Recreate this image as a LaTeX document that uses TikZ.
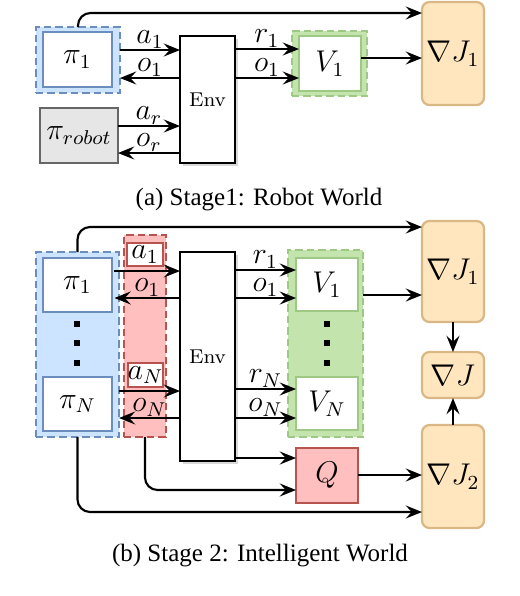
\documentclass[tikz,border=0pt]{standalone}
\usepackage{fontspec}
\newfontfamily\capfont{Liberation Serif}
\usetikzlibrary{arrows.meta,shadows,calc}
\definecolor{blueF}{HTML}{CCE4FF}
\definecolor{blueB}{HTML}{6C8EBF}
\definecolor{greenF}{HTML}{C4E4AE}
\definecolor{greenB}{HTML}{9DC985}
\definecolor{redF}{HTML}{FFBFBF}
\definecolor{redB}{HTML}{B85450}
\definecolor{oranF}{HTML}{FFE6BF}
\definecolor{oranB}{HTML}{D9B886}
\definecolor{grayF}{HTML}{E6E6E6}
\definecolor{grayB}{HTML}{666666}
\begin{document}
\begin{tikzpicture}[x=0.4pt,y=-0.4pt,
  every node/.style={inner sep=0pt, outer sep=0pt},
  sz/.style 2 args={minimum width={#1*0.4pt}, minimum height={#2*0.4pt}},
  ml/.style={font=\fontsize{11.5}{14}\selectfont},
  lbl/.style={ml, above=0.8pt, midway},
  arr/.style={-{Stealth[length=6.5pt,width=5.2pt,inset=2.4pt]}, line width=0.85pt},
  conn/.style={line width=0.85pt, rounded corners=5pt},
  bluegrp/.style={draw=blueB, fill=blueF, dashed, dash pattern=on 3pt off 1.6pt, line width=0.9pt},
  bluebox/.style={draw=blueB, fill=white, line width=1.1pt, ml},
  greengrp/.style={draw=greenB, fill=greenF, dashed, dash pattern=on 3pt off 1.6pt, line width=0.9pt},
  greenbox/.style={draw=greenB, fill=white, line width=1.1pt, ml},
  redgrp/.style={draw=redB, fill=redF, dashed, dash pattern=on 3pt off 1.6pt, line width=0.9pt},
  redlbl/.style={draw=redB, fill=white, line width=0.8pt, ml},
  qbox/.style={draw=redB, fill=redF, line width=0.9pt, ml},
  gradbox/.style={draw=oranB, fill=oranF, line width=0.9pt, rounded corners=3pt, ml},
  robotbox/.style={draw=grayB, fill=grayF, line width=0.8pt, ml},
  envbox/.style={draw=black, fill=white, line width=0.7pt, font=\fontsize{8}{10}\selectfont,
    drop shadow={shadow xshift=1.1pt, shadow yshift=-1.1pt, opacity=0.3}},
  sq/.style={fill=black, minimum size=2.5pt},
  captext/.style={font=\capfont\fontsize{10}{12}\selectfont}
]
\useasboundingbox (0,0) rectangle (520,596);

% ---------------- Stage 1 ----------------
\node[bluegrp, sz={84}{66}] (g1) at (78,60) {};
\node[bluebox, sz={69}{55}] (p1) at (77.5,59.5) {$\pi_1$};
\node[robotbox, sz={78}{55}] (rob) at (79,135.5) {$\pi_{robot}$};
\node[envbox, sz={55}{127}] (env1) at (207.5,99.5) {Env};
\node[greengrp, sz={75}{65}] (vg1) at (329.5,63.5) {};
\node[greenbox, sz={62}{55}] (v1) at (330,63.5) {$V_1$};
\node[gradbox, sz={62}{103}] (gj1) at (453,53.5) {$\nabla J_1$};

\draw[conn, arr] (g1.north) -- (g1.north |- 0,13) -- (gj1.west |- 0,13);
\draw[arr] (g1.east |- 0,50) -- node[lbl]{$a_1$} (env1.west |- 0,50);
\draw[arr] (env1.west |- 0,78) -- node[lbl]{$o_1$} (g1.east |- 0,78);
\draw[arr] (rob.east |- 0,126) -- node[lbl]{$a_r$} (env1.west |- 0,126);
\draw[arr] (env1.west |- 0,153) -- node[lbl]{$o_r$} (rob.east |- 0,153);
\draw[arr] (env1.east |- 0,49) -- node[lbl]{$r_1$} (v1.west |- 0,49);
\draw[arr] (env1.east |- 0,78) -- node[lbl]{$o_1$} (v1.west |- 0,78);
\draw[arr] (v1.east |- 0,58) -- (gj1.west |- 0,58);

\node[captext] (capa) at (259,200) {(a) Stage1: Robot World};

% ---------------- Stage 2 ----------------
\node[bluegrp, sz={83}{185}] (g2) at (77.5,344.5) {};
\node[bluebox, sz={69}{54}] (q1) at (77.5,285) {$\pi_1$};
\node[bluebox, sz={69}{54}] (qn) at (77.5,404) {$\pi_N$};
\node[sq] (bd1) at (77,324) {};
\node[sq] (bd2) at (77,343) {};
\node[sq] (bd3) at (77,363) {};

\node[redgrp, sz={42}{202}] (rg) at (145,336) {};
\node[redlbl, sz={36}{23}] (a1b) at (145,254.5) {$a_1$};
\node[redlbl, sz={35}{24}] (anb) at (145.5,375) {$a_N$};

\node[envbox, sz={55}{209}] (env2) at (207.5,356.5) {Env};

\node[greengrp, sz={75}{187}] (vg2) at (325.5,343.5) {};
\node[greenbox, sz={62}{53}] (w1) at (327,284.5) {$V_1$};
\node[greenbox, sz={62}{53}] (wn) at (327,403.5) {$V_N$};
\node[sq] (gd1) at (327,324) {};
\node[sq] (gd2) at (327,343) {};
\node[sq] (gd3) at (327,363) {};

\node[qbox, sz={62}{55}] (qq) at (327,475.5) {$Q$};

\node[gradbox, sz={62}{101}] (gj1b) at (453,271.5) {$\nabla J_1$};
\node[gradbox, sz={62}{46}] (gj) at (453,375) {$\nabla J$};
\node[gradbox, sz={62}{103}] (gj2) at (453,476.5) {$\nabla J_2$};

\draw[conn, arr] (g2.north) -- (g2.north |- 0,227) -- (gj1b.west |- 0,227);
\draw[arr] ([xshift=1pt]q1.east |- 0,271) -- (env2.west |- 0,271);
\draw[arr] (env2.west |- 0,298) -- node[lbl]{$o_1$} ([xshift=1pt]q1.east |- 0,298);
\draw[arr] (g2.east |- 0,391) -- (env2.west |- 0,391);
\draw[arr] (env2.west |- 0,418) -- node[lbl]{$o_N$} (g2.east |- 0,418);
\draw[arr] (env2.east |- 0,270) -- node[lbl]{$r_1$} (w1.west |- 0,270);
\draw[arr] (env2.east |- 0,298) -- node[lbl]{$o_1$} (w1.west |- 0,298);
\draw[arr] (env2.east |- 0,389) -- node[lbl]{$r_N$} (wn.west |- 0,389);
\draw[arr] (env2.east |- 0,418) -- node[lbl]{$o_N$} (wn.west |- 0,418);
\draw[arr] (env2.east |- 0,458) -- (qq.west |- 0,458);
\draw[conn, arr] (rg.south) -- (rg.south |- 0,490) -- (qq.west |- 0,490);
\draw[conn, arr] (g2.south) -- (g2.south |- 0,512) -- (gj2.west |- 0,512);
\draw[arr] (vg2.east |- 0,295) -- (gj1b.west |- 0,295);
\draw[arr] (qq.east |- 0,475) -- (gj2.west |- 0,475);
\draw[arr] (gj1b.south) -- (gj.north);
\draw[arr] (gj2.north) -- (gj.south);

\node[captext] (capb) at (260,556) {(b) Stage 2: Intelligent World};
\end{tikzpicture}
\end{document}
